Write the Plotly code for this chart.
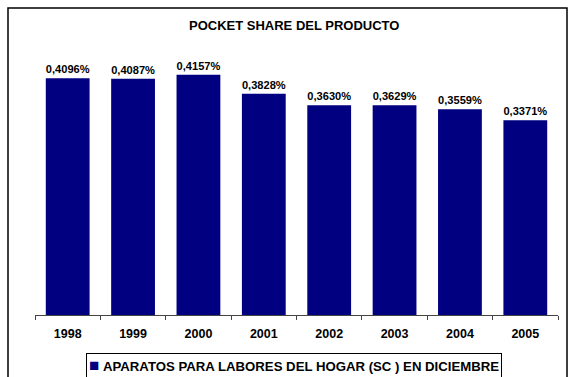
import plotly.graph_objects as go

# data
years = ["1998", "1999", "2000", "2001", "2002", "2003", "2004", "2005"]
pocket_share = [0.4096, 0.4087, 0.4157, 0.3828, 0.3630, 0.3629, 0.3559, 0.3371]
series_name = "APARATOS PARA LABORES DEL HOGAR (SC ) EN DICIEMBRE"
title_text = "POCKET SHARE DEL PRODUCTO"

navy = "#000080"
font_family = "Arial, Liberation Sans, sans-serif"

fig = go.Figure(go.Bar(
    x=years, y=pocket_share, name=series_name,
    marker=dict(color=navy, line=dict(width=0)),
    texttemplate="%{y:.4f}%", textposition="outside",
    textfont=dict(family=font_family, size=11.5, color="black", weight="bold"),
    cliponaxis=False, showlegend=False,
))

fig.update_layout(
    width=574, height=377,
    margin=dict(l=35, r=16, t=55, b=62),
    paper_bgcolor="white", plot_bgcolor="white",
    separators=",.",
    bargap=0.33,
    font=dict(family=font_family, color="black"),
    xaxis=dict(
        showline=True, linecolor="#444444", linewidth=1,
        ticks="outside", tickson="boundaries", ticklen=4, tickcolor="#444444",
        tickfont=dict(size=12.5, family=font_family, color="black", weight="bold"),
        ticklabelstandoff=7,
        showgrid=False,
    ),
    yaxis=dict(range=[0, 0.45], visible=False, showgrid=False),
    # outer chart frame, runs past the bottom of the picture
    shapes=[dict(
        type="rect", xref="paper", yref="paper",
        x0=(8 - 35) / 523, x1=(567 - 35) / 523,
        y0=(315 - 390) / 260, y1=(315 - 8) / 260,
        line=dict(color="black", width=1.5), fillcolor="rgba(0,0,0,0)",
        layer="below",
    )],
    annotations=[
        dict(text="<b>" + title_text + "</b>", xref="paper", yref="paper",
             x=(294 - 35) / 523, y=(315 - 26) / 260, showarrow=False,
             xanchor="center", yanchor="middle",
             font=dict(size=13, family=font_family, color="black")),
        # legend box drawn as an annotation so the swatch sits next to the text
        dict(text='<span style="color:%s;font-size:17px">■</span> <b>%s</b>' % (navy, series_name),
             xref="paper", yref="paper",
             x=(294 - 35) / 523, y=(315 - 365) / 260, showarrow=False,
             xanchor="center", yanchor="middle",
             bordercolor="black", borderwidth=1, borderpad=2, bgcolor="white",
             font=dict(size=13.2, family=font_family, color="black")),
    ],
)

fig.write_html("out.html", config={"displayModeBar": False},
               post_script="document.body.style.margin='0';")
